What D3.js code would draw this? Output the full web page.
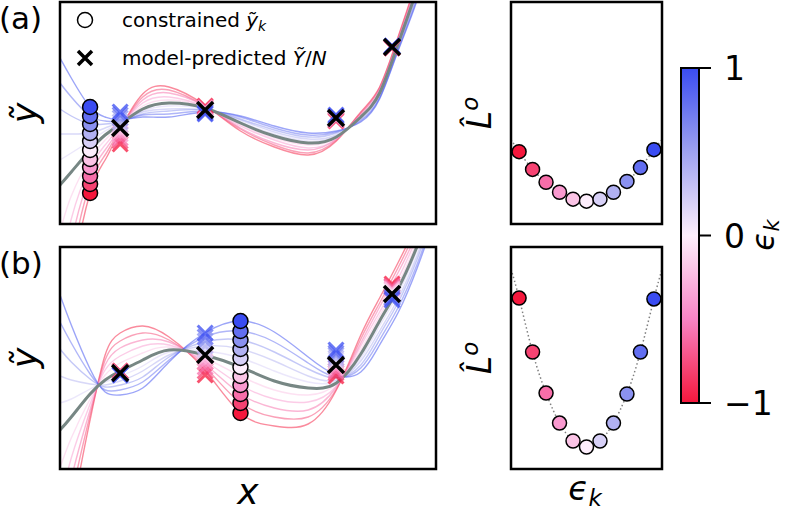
<!DOCTYPE html>
<html>
<head>
<meta charset="utf-8">
<script src="https://cdn.jsdelivr.net/npm/d3@7"></script>
<style>
  body { margin: 0; background: #fff; }
  svg { display: block; font-family: "DejaVu Sans", sans-serif; }
</style>
</head>
<body>
<div id="chart"></div>
<script>
// constraint strengths, one colour per curve
var epsK = [-1, -0.8, -0.6, -0.4, -0.2, 0, 0.2, 0.4, 0.6, 0.8, 1];

// x positions where the fitted curves were read
var xSamples = [0, 0.3, 0.8, 1.2, 1.6, 2.2, 2.9, 3.85, 4.8, 5.7, 6.6, 7.35, 8.0, 8.5, 9.0, 9.5, 10];

// panel (a): fitted curves, one row per epsK
var curvesA = [
  [-3.08, -1.78, -0.81, -0.48, -0.18, 0.18, 0.25, 0.07, -0.19, -0.35, -0.43, -0.29, 0.00, 0.25, 0.76, 1.34, 2.04],
  [-2.61, -1.54, -0.72, -0.43, -0.17, 0.15, 0.22, 0.06, -0.17, -0.33, -0.41, -0.28, -0.01, 0.24, 0.75, 1.32, 2.02],
  [-2.14, -1.31, -0.64, -0.38, -0.16, 0.12, 0.19, 0.06, -0.16, -0.31, -0.38, -0.27, -0.02, 0.23, 0.73, 1.30, 1.99],
  [-1.67, -1.07, -0.55, -0.33, -0.14, 0.09, 0.15, 0.05, -0.14, -0.28, -0.36, -0.27, -0.03, 0.21, 0.72, 1.28, 1.97],
  [-1.20, -0.84, -0.47, -0.28, -0.13, 0.06, 0.12, 0.05, -0.13, -0.26, -0.33, -0.26, -0.04, 0.20, 0.70, 1.26, 1.94],
  [-0.73, -0.60, -0.38, -0.23, -0.12, 0.03, 0.09, 0.04, -0.11, -0.24, -0.31, -0.25, -0.05, 0.19, 0.69, 1.24, 1.92],
  [-0.48, -0.41, -0.29, -0.19, -0.11, 0.01, 0.06, 0.03, -0.10, -0.22, -0.29, -0.24, -0.06, 0.18, 0.68, 1.22, 1.89],
  [-0.22, -0.22, -0.21, -0.16, -0.10, 0.00, 0.03, 0.02, -0.08, -0.20, -0.27, -0.23, -0.07, 0.17, 0.66, 1.19, 1.86],
  [0.03, -0.04, -0.12, -0.12, -0.10, -0.02, 0.01, 0.02, -0.07, -0.18, -0.25, -0.21, -0.08, 0.15, 0.65, 1.17, 1.83],
  [0.29, 0.15, -0.04, -0.09, -0.09, -0.03, -0.02, 0.01, -0.05, -0.16, -0.23, -0.20, -0.09, 0.14, 0.63, 1.14, 1.80],
  [0.54, 0.34, 0.05, -0.05, -0.08, -0.05, -0.05, 0.00, -0.04, -0.14, -0.21, -0.19, -0.10, 0.13, 0.62, 1.12, 1.77]
];
var grayA = [-0.73, -0.60, -0.38, -0.23, -0.12, 0.03, 0.09, 0.04, -0.11, -0.24, -0.31, -0.25, -0.05, 0.19, 0.69, 1.24, 1.92];

// panel (b)
var curvesB = [
  [-2.62, -1.62, -0.62, 0.03, 0.25, 0.32, 0.21, -0.12, -0.55, -0.68, -0.66, -0.32, 0.23, 0.60, 0.96, 1.36, 1.88],
  [-2.24, -1.41, -0.57, -0.02, 0.17, 0.25, 0.18, -0.09, -0.45, -0.59, -0.59, -0.31, 0.19, 0.55, 0.91, 1.31, 1.83],
  [-1.86, -1.21, -0.52, -0.07, 0.10, 0.18, 0.16, -0.06, -0.36, -0.50, -0.52, -0.29, 0.15, 0.51, 0.86, 1.26, 1.78],
  [-1.48, -1.00, -0.46, -0.12, 0.02, 0.12, 0.13, -0.03, -0.27, -0.41, -0.44, -0.28, 0.12, 0.46, 0.80, 1.22, 1.73],
  [-1.10, -0.80, -0.41, -0.17, -0.05, 0.05, 0.11, 0.00, -0.18, -0.32, -0.37, -0.26, 0.08, 0.42, 0.75, 1.17, 1.68],
  [-0.72, -0.59, -0.36, -0.22, -0.13, -0.02, 0.08, 0.03, -0.09, -0.23, -0.30, -0.25, 0.04, 0.37, 0.70, 1.12, 1.63],
  [-0.45, -0.41, -0.31, -0.24, -0.18, -0.08, 0.06, 0.07, 0.00, -0.13, -0.24, -0.23, 0.00, 0.32, 0.65, 1.08, 1.59],
  [-0.18, -0.22, -0.26, -0.27, -0.23, -0.13, 0.03, 0.12, 0.09, -0.03, -0.18, -0.22, -0.03, 0.27, 0.60, 1.03, 1.55],
  [0.09, -0.04, -0.21, -0.29, -0.27, -0.19, 0.01, 0.16, 0.18, 0.06, -0.11, -0.20, -0.07, 0.23, 0.56, 0.99, 1.51],
  [0.36, 0.15, -0.16, -0.32, -0.32, -0.24, -0.02, 0.21, 0.27, 0.16, -0.05, -0.19, -0.10, 0.18, 0.51, 0.94, 1.47],
  [0.63, 0.33, -0.11, -0.34, -0.37, -0.30, -0.04, 0.25, 0.37, 0.26, 0.01, -0.17, -0.14, 0.13, 0.46, 0.90, 1.43]
];
var grayB = [-0.72, -0.59, -0.36, -0.22, -0.13, -0.02, 0.08, 0.03, -0.09, -0.23, -0.30, -0.25, 0.04, 0.37, 0.70, 1.12, 1.63];

// constrained points
var xConstrA = 0.8, xConstrB = 4.8;
var yConstrA = [-0.81, -0.72, -0.64, -0.55, -0.47, -0.38, -0.29, -0.21, -0.12, -0.04, 0.05];
var yConstrB = [-0.55, -0.45, -0.36, -0.27, -0.18, -0.09, 0.00, 0.09, 0.18, 0.27, 0.37];

// model-predicted points
var xCross = [1.6, 3.86, 7.34, 8.83];
var crossA = [
  [-0.32, 0.06, -0.09, 0.64], [-0.29, 0.05, -0.08, 0.64], [-0.26, 0.04, -0.08, 0.64],
  [-0.22, 0.04, -0.07, 0.65], [-0.19, 0.03, -0.07, 0.65], [-0.16, 0.02, -0.06, 0.65],
  [-0.13, 0.01, -0.05, 0.65], [-0.10, 0.00, -0.05, 0.65], [-0.06, 0.00, -0.04, 0.66],
  [-0.03, -0.01, -0.04, 0.66], [0.00, -0.02, -0.03, 0.66]
];
var blackA = [-0.16, 0.02, -0.06, 0.65];
var crossB = [
  [-0.13, -0.17, -0.18, 0.74], [-0.13, -0.13, -0.15, 0.72], [-0.14, -0.09, -0.13, 0.71],
  [-0.14, -0.04, -0.10, 0.69], [-0.15, 0.00, -0.08, 0.68], [-0.15, 0.04, -0.05, 0.66],
  [-0.15, 0.08, -0.02, 0.64], [-0.16, 0.12, 0.00, 0.63], [-0.16, 0.17, 0.03, 0.61],
  [-0.17, 0.21, 0.05, 0.60], [-0.17, 0.25, 0.08, 0.58]
];
var blackB = [-0.15, 0.03, -0.07, 0.64];

// loss vs eps (right panels)
var lossA = [0.326, 0.246, 0.188, 0.143, 0.112, 0.103, 0.112, 0.143, 0.192, 0.254, 0.335];
var lossB = [0.770, 0.527, 0.342, 0.207, 0.126, 0.099, 0.126, 0.207, 0.338, 0.527, 0.766];
var lossLineEps = [-1.12, -1, -0.8, -0.6, -0.4, -0.2, 0, 0.2, 0.4, 0.6, 0.8, 1, 1.12];
var lossLineA = [0.38, 0.326, 0.246, 0.188, 0.143, 0.112, 0.103, 0.112, 0.143, 0.192, 0.254, 0.335, 0.38];
var lossLineB = [0.90, 0.770, 0.527, 0.342, 0.207, 0.126, 0.099, 0.126, 0.207, 0.338, 0.527, 0.766, 0.90];

// colour bar
var cmapStops = [-1, -0.5, 0, 0.5, 1];
var cmapColors = ["#f5173c", "#f884c4", "#fdeefc", "#9ea2f0", "#3a4cf2"];
var cbTicks = [-1, 0, 1];
var cbTickLabels = ["\u22121", "0", "1"];

var W = 787, H = 514;
var svg = d3.select("#chart").append("svg").attr("width", W).attr("height", H);

var color = d3.scaleLinear().domain(cmapStops).range(cmapColors).interpolate(d3.interpolateRgb);

var x = d3.scaleLinear().domain([0, 10]).range([60, 436]);
var xr = d3.scaleLinear().domain([-1.12, 1.12]).range([511, 662]);

var panels = [
  { id: "a", label: "(a)", top: 2, bot: 224, y: d3.scaleLinear().domain([-1.12, 1.10]).range([224, 2]),
    curves: curvesA, gray: grayA, xc: xConstrA, yc: yConstrA, cross: crossA, black: blackA,
    yr: d3.scaleLinear().domain([0, 1]).range([224, 2]), loss: lossA, lossLine: lossLineA },
  { id: "b", label: "(b)", top: 247, bot: 469, y: d3.scaleLinear().domain([-1.11, 1.11]).range([469, 247]),
    curves: curvesB, gray: grayB, xc: xConstrB, yc: yConstrB, cross: crossB, black: blackB,
    yr: d3.scaleLinear().domain([0, 1]).range([469, 247]), loss: lossB, lossLine: lossLineB }
];

var crossPath = function (s) {
  return "M" + (-s) + "," + (-s) + "L" + s + "," + s + "M" + (-s) + "," + s + "L" + s + "," + (-s);
};

panels.forEach(function (p) {
  var y = p.y;
  svg.append("clipPath").attr("id", "clip-" + p.id)
    .append("rect").attr("x", 60).attr("y", p.top).attr("width", 376).attr("height", p.bot - p.top);

  var g = svg.append("g").attr("clip-path", "url(#clip-" + p.id + ")");
  var line = d3.line().x(function (d) { return x(d[0]); }).y(function (d) { return y(d[1]); })
    .curve(d3.curveNatural);

  // fitted curves, red first so blue sits on top
  p.curves.forEach(function (row, i) {
    g.append("path")
      .attr("d", line(xSamples.map(function (xv, j) { return [xv, row[j]]; })))
      .attr("fill", "none")
      .attr("stroke", color(epsK[i]))
      .attr("stroke-opacity", 0.5)
      .attr("stroke-width", 1.4);
  });
  g.append("path")
    .attr("d", line(xSamples.map(function (xv, j) { return [xv, p.gray[j]]; })))
    .attr("fill", "none").attr("stroke", "#778784").attr("stroke-width", 3);

  // coloured crosses
  p.cross.forEach(function (row, i) {
    row.forEach(function (v, j) {
      svg.append("path")
        .attr("transform", "translate(" + x(xCross[j]) + "," + y(v) + ")")
        .attr("d", crossPath(7.5))
        .attr("stroke", color(epsK[i])).attr("stroke-width", 3).attr("stroke-opacity", 0.75);
    });
  });
  p.black.forEach(function (v, j) {
    svg.append("path")
      .attr("transform", "translate(" + x(xCross[j]) + "," + y(v) + ")")
      .attr("d", crossPath(8))
      .attr("stroke", "#000").attr("stroke-width", 3.5);
  });

  // constrained points
  svg.selectAll(null).data(p.yc).enter().append("circle")
    .attr("cx", x(p.xc)).attr("cy", function (d) { return y(d); }).attr("r", 7.5)
    .attr("fill", function (d, i) { return color(epsK[i]); })
    .attr("stroke", "#000").attr("stroke-width", 1.5);

  svg.append("rect").attr("x", 60).attr("y", p.top).attr("width", 376).attr("height", p.bot - p.top)
    .attr("fill", "none").attr("stroke", "#000").attr("stroke-width", 2.5);

  // right panel: loss vs eps
  var lineR = d3.line().x(function (d) { return xr(d[0]); }).y(function (d) { return p.yr(d[1]); })
    .curve(d3.curveNatural);
  svg.append("path")
    .attr("d", lineR(lossLineEps.map(function (e, j) { return [e, p.lossLine[j]]; })))
    .attr("fill", "none").attr("stroke", "#808080").attr("stroke-width", 1.5)
    .attr("stroke-dasharray", "1.5,2.5");
  svg.selectAll(null).data(p.loss).enter().append("circle")
    .attr("cx", function (d, i) { return xr(epsK[i]); })
    .attr("cy", function (d) { return p.yr(d); })
    .attr("r", 7)
    .attr("fill", function (d, i) { return color(epsK[i]); })
    .attr("stroke", "#000").attr("stroke-width", 1.5);
  svg.append("rect").attr("x", 511).attr("y", p.top).attr("width", 151).attr("height", p.bot - p.top)
    .attr("fill", "none").attr("stroke", "#000").attr("stroke-width", 2.5);

  // labels
  var mid = (p.top + p.bot) / 2;
  svg.append("text").attr("x", -1).attr("y", p.top + 27).attr("font-size", 31).text(p.label);
  svg.append("text").attr("transform", "translate(37," + mid + ") rotate(-90)")
    .attr("text-anchor", "middle").attr("font-size", 35).attr("font-style", "italic").text("\u1EF9");
  var lt = svg.append("text").attr("transform", "translate(491," + mid + ") rotate(-90)")
    .attr("text-anchor", "middle").attr("font-size", 33).attr("font-style", "italic");
  lt.append("tspan").text("L\u0302");
  lt.append("tspan").attr("font-size", 23).attr("dy", -13).text("o");
});

// legend
svg.append("circle").attr("cx", 85).attr("cy", 20).attr("r", 7.5)
  .attr("fill", "#fff").attr("stroke", "#000").attr("stroke-width", 1.5);
var t1 = svg.append("text").attr("x", 122).attr("y", 27).attr("font-size", 20);
t1.append("tspan").text("constrained ");
t1.append("tspan").attr("font-style", "italic").text("\u1EF9");
t1.append("tspan").attr("font-style", "italic").attr("font-size", 14).attr("dy", 4).text("k");
svg.append("path").attr("transform", "translate(85,58)").attr("d", crossPath(7))
  .attr("stroke", "#000").attr("stroke-width", 3.5);
var t2 = svg.append("text").attr("x", 122).attr("y", 65).attr("font-size", 20);
t2.append("tspan").text("model-predicted ");
t2.append("tspan").attr("font-style", "italic").text("\u1EF8");
t2.append("tspan").text("/");
t2.append("tspan").attr("font-style", "italic").text("N");

// x labels
svg.append("text").attr("x", 248).attr("y", 504).attr("text-anchor", "middle")
  .attr("font-size", 36).attr("font-style", "italic").text("x");
var ek = svg.append("text").attr("x", 585).attr("y", 500).attr("text-anchor", "middle")
  .attr("font-size", 33).attr("font-style", "italic");
ek.append("tspan").text("\u03F5");
ek.append("tspan").attr("font-size", 23).attr("dy", 6).text("k");

// colour bar
var cbY = d3.scaleLinear().domain([-1, 1]).range([403, 68]);
var grad = svg.append("defs").append("linearGradient").attr("id", "cbgrad")
  .attr("x1", 0).attr("y1", 1).attr("x2", 0).attr("y2", 0);
d3.range(0, 21).forEach(function (k) {
  var e = -1 + k / 10;
  grad.append("stop").attr("offset", (k / 20 * 100) + "%").attr("stop-color", color(e));
});
svg.append("rect").attr("x", 681).attr("y", cbY(1)).attr("width", 18).attr("height", cbY(-1) - cbY(1))
  .attr("fill", "url(#cbgrad)").attr("stroke", "#000").attr("stroke-width", 2);
cbTicks.forEach(function (t, i) {
  svg.append("line").attr("x1", 699).attr("x2", 711).attr("y1", cbY(t)).attr("y2", cbY(t))
    .attr("stroke", "#000").attr("stroke-width", 2);
  svg.append("text").attr("x", 724).attr("y", cbY(t) + 12).attr("font-size", 33).text(cbTickLabels[i]);
});
var cl = svg.append("text").attr("transform", "translate(774,235) rotate(-90)")
  .attr("text-anchor", "middle").attr("font-size", 31).attr("font-style", "italic");
cl.append("tspan").text("\u03F5");
cl.append("tspan").attr("font-size", 21).attr("dy", 5).text("k");
</script>
</body>
</html>
